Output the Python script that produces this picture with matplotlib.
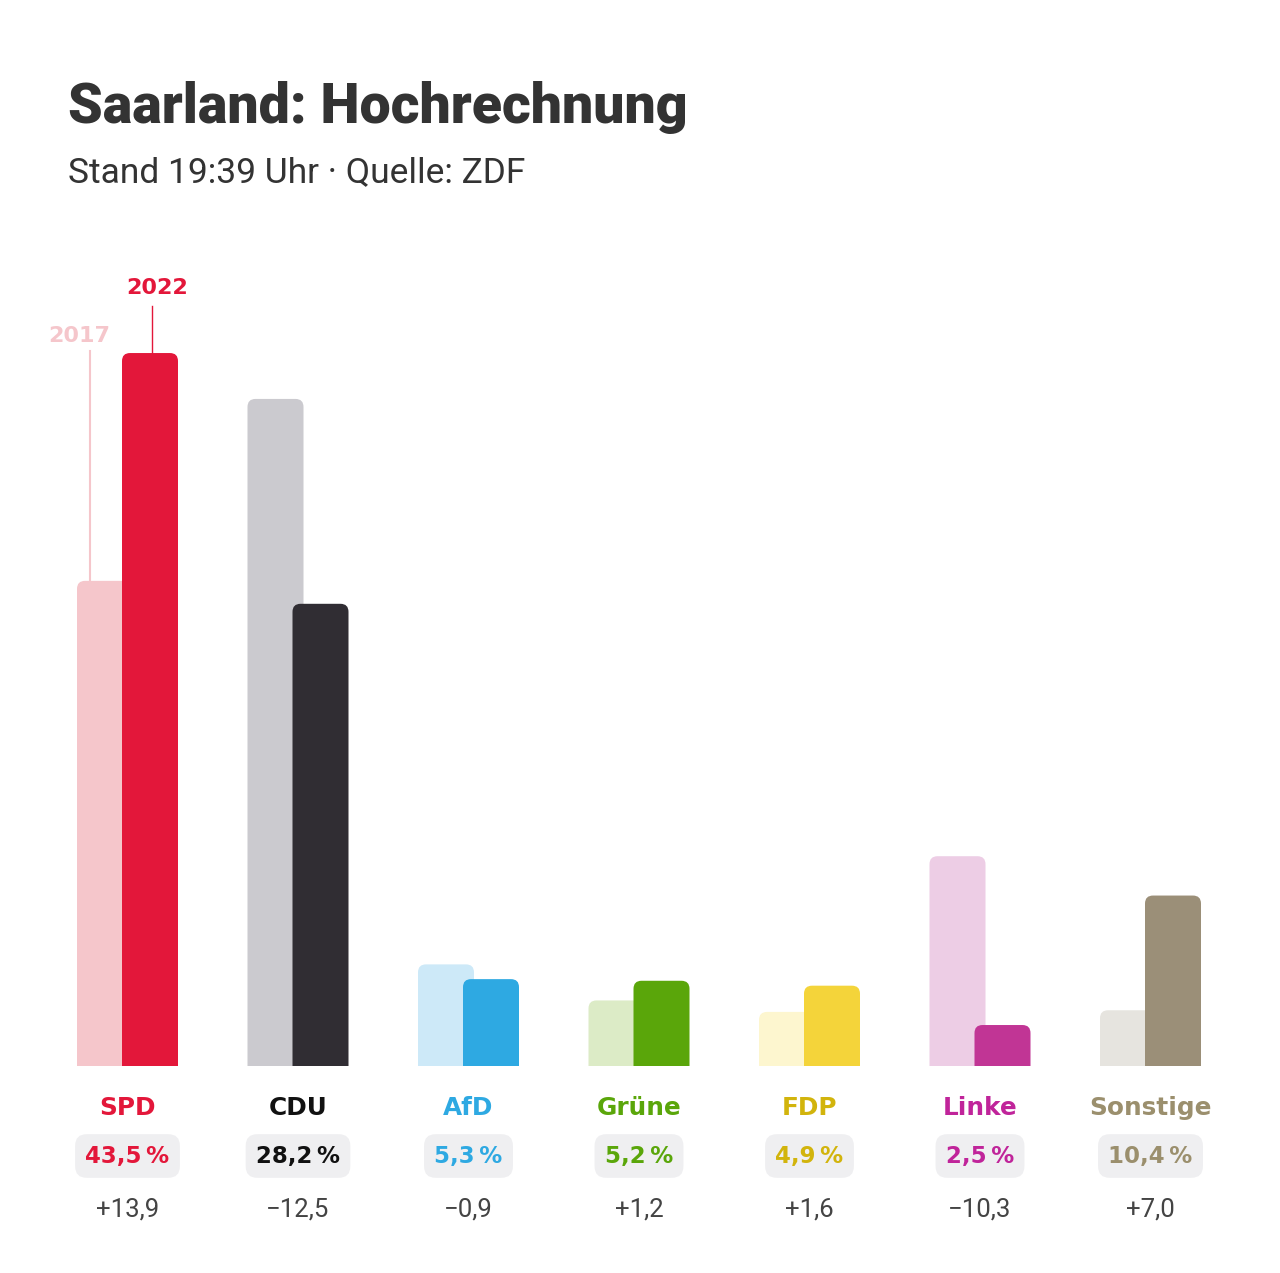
import matplotlib
matplotlib.use("Agg")
import matplotlib.pyplot as plt
from matplotlib.patches import FancyBboxPatch
import matplotlib.transforms as mtransforms

# Daten
parteien = ['SPD', 'CDU', 'AfD', 'Grüne', 'FDP', 'Linke', 'Sonstige']
werte_2022 = [43.5, 28.2, 5.3, 5.2, 4.9, 2.5, 10.4]
werte_2017 = [29.6, 40.7, 6.2, 4.0, 3.3, 12.8, 3.4]
differenz = ['+13,9', '\u221212,5', '\u22120,9', '+1,2', '+1,6', '\u221210,3', '+7,0']

farben_2022 = ['#e3173a', '#302d33', '#2ea9e2', '#5aa60a', '#f4d43a', '#c13595', '#9b8f78']
farben_2017 = ['#f5c6cb', '#cbcacf', '#cde9f8', '#dcebc6', '#fdf6cf', '#edcde5', '#e6e4df']
farben_text = ['#e3173a', '#111111', '#2ea9e2', '#5aa60a', '#d2b40c', '#c0249a', '#9b8f6d']

W, H = 1280, 1273
fig = plt.figure(figsize=(W / 100, H / 100), dpi=100)
fig.patch.set_facecolor('white')

# Achse in Pixel-Geometrie: Basislinie bei y=1066, 16.39 px pro Prozentpunkt
px_pro_prozent = 16.39
basis = 1066
ymax = 48.4
ax_h = ymax * px_pro_prozent
ax = fig.add_axes([0, (H - basis) / H, 1, ax_h / H])
gruppe_px = 170.5
start_px = 127.5
ax.set_xlim(-start_px / gruppe_px, (W - start_px) / gruppe_px)
ax.set_ylim(0, ymax)
ax.axis('off')

breite = 56 / gruppe_px
versatz = 22.5 / gruppe_px
radius = 8 / gruppe_px
aspekt = (1 / px_pro_prozent) / (1 / gruppe_px)


def balken(x, wert, farbe, z):
    p = FancyBboxPatch((x - breite / 2, -2), breite, wert + 2,
                       boxstyle=f"round,pad=0,rounding_size={radius}",
                       mutation_aspect=aspekt, facecolor=farbe,
                       edgecolor='none', zorder=z)
    p.set_clip_on(True)
    ax.add_patch(p)


for i in range(len(parteien)):
    balken(i - versatz, werte_2017[i], farben_2017[i], 1)
    balken(i + versatz, werte_2022[i], farben_2022[i], 2)

# Jahresbeschriftung am SPD-Balken
x22 = 0 + (152 - 150) / gruppe_px + versatz
ax.plot([x22, x22], [werte_2022[0], werte_2022[0] + 2.9], color='#e3173a', lw=1, zorder=3)
ax.text(x22 + 5 / gruppe_px, werte_2022[0] + 3.95, '2022', ha='center', va='center',
        fontsize=16, fontweight='bold', color='#e3173a', family='DejaVu Sans')
x17 = (90 - start_px) / gruppe_px
ax.plot([x17, x17], [werte_2017[0], 43.6], color='#f5c6cb', lw=1.5, zorder=0)
ax.text(x17 - 11 / gruppe_px, 44.55, '2017', ha='center', va='center',
        fontsize=16, fontweight='bold', color='#f5c6cb', family='DejaVu Sans')

# Beschriftungen unter den Balken
trans = mtransforms.blended_transform_factory(ax.transData, fig.transFigure)
for i, partei in enumerate(parteien):
    ax.text(i, (H - 1108) / H, partei, transform=trans, ha='center', va='center',
            fontsize=17.8, fontweight='bold', color=farben_text[i], family='DejaVu Sans')
    wert = f"{werte_2022[i]:.1f}".replace('.', ',') + '\u2009%'
    ax.text(i, (H - 1156) / H, wert, transform=trans, ha='center', va='center',
            fontsize=16.5, fontweight='bold', color=farben_text[i], family='DejaVu Sans',
            bbox=dict(boxstyle='round,pad=0.45,rounding_size=0.5', facecolor='#efeff1',
                      edgecolor='none'))
    ax.text(i, (H - 1209) / H, differenz[i], transform=trans, ha='center', va='center',
            fontsize=18.5, color='#444444', family='Roboto')

# Titel
fig.text(68 / W, (H - 107) / H, 'Saarland: Hochrechnung', ha='left', va='center',
         fontsize=40, fontweight=900, color='#333333', family='Roboto')
fig.text(68 / W, (H - 173) / H, 'Stand 19:39 Uhr \u00b7 Quelle: ZDF', ha='left', va='center',
         fontsize=25.5, color='#333333', family='Roboto')

fig.savefig('out.png', dpi=100, facecolor='white')
